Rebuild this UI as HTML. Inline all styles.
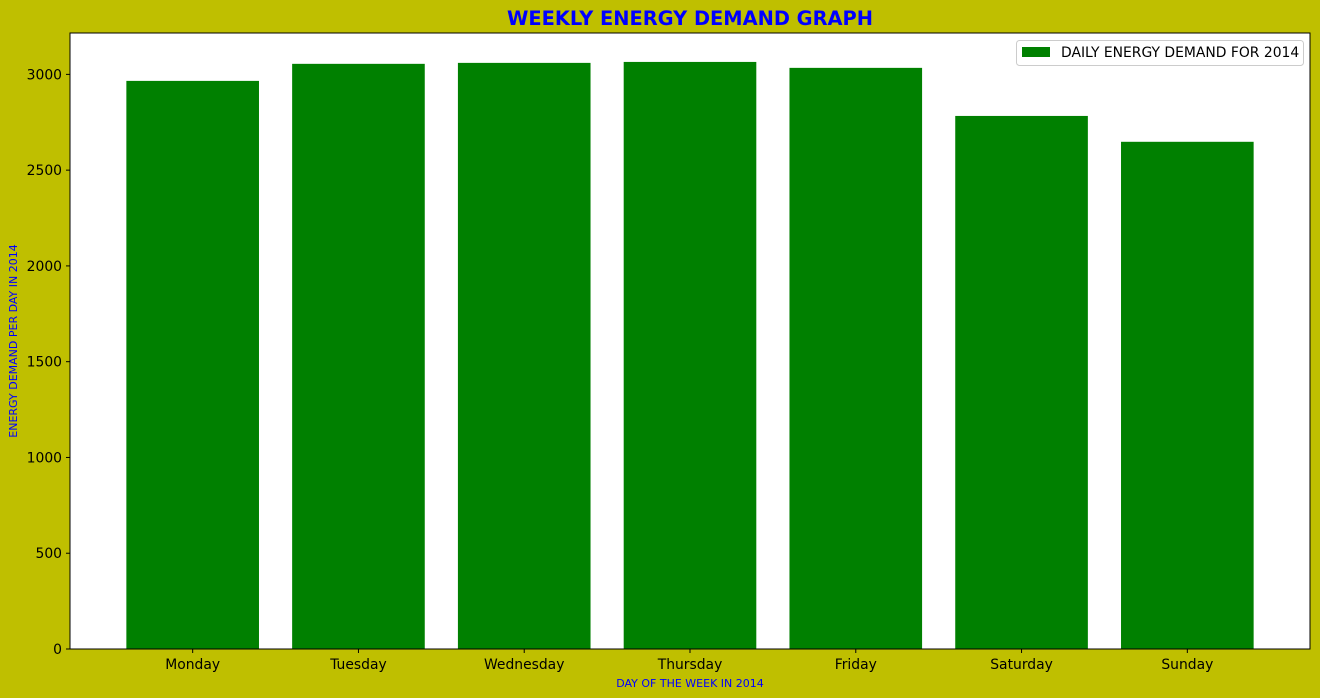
<!DOCTYPE html>
<html><head><meta charset="utf-8"><style>
body{margin:0;background:#bfbf00;}
svg{display:block;font-family:"DejaVu Sans","Liberation Sans",sans-serif;}
</style></head><body>
<svg id="chart" width="1320" height="698" xmlns="http://www.w3.org/2000/svg">
<rect x="0" y="0" width="1320" height="698" fill="#bfbf00"/>
<rect x="70" y="33" width="1240" height="616" fill="#ffffff"/>
<text x="690" y="25" text-anchor="middle" font-size="19.4" font-weight="bold" fill="#0000ff">WEEKLY ENERGY DEMAND GRAPH</text>
<text x="690" y="687" text-anchor="middle" font-size="11" fill="#0000ff">DAY OF THE WEEK IN 2014</text>
<text transform="translate(17,341) rotate(-90)" text-anchor="middle" font-size="11" fill="#0000ff">ENERGY DEMAND PER DAY IN 2014</text>
<g id="bars"></g><g id="xticks"></g><g id="yticks"></g>
<rect x="70" y="33" width="1240" height="616" fill="none" stroke="#000" stroke-width="1"/>
<g>
<rect x="1016.5" y="40.5" width="287" height="25" rx="3" fill="#fff" stroke="#ccc"/>
<rect x="1022" y="47" width="28" height="10" fill="#008000"/>
<text x="1061" y="57" font-size="13.9" fill="#000">DAILY ENERGY DEMAND FOR 2014</text>
</g>
</svg>
<script>
const categories=["Monday","Tuesday","Wednesday","Thursday","Friday","Saturday","Sunday"];
const demandValues=[2966,3055,3060,3065,3034,2783,2648];
const yTickValues=[0,500,1000,1500,2000,2500,3000];
const NS="http://www.w3.org/2000/svg";
const x0=70,x1=1310,y0=649,y1=33;
const xmin=-0.74,xmax=6.74,ymin=0,ymax=3216;
function xs(v){return x0+(v-xmin)/(xmax-xmin)*(x1-x0);}
function ys(v){return y0-(v-ymin)/(ymax-ymin)*(y0-y1);}
function mk(t,a,p){const e=document.createElementNS(NS,t);for(const k in a)e.setAttribute(k,a[k]);p.appendChild(e);return e;}
const bars=document.getElementById('bars'),xt=document.getElementById('xticks'),yt=document.getElementById('yticks');
categories.forEach((c,i)=>{
 const l=xs(i-0.4),r=xs(i+0.4),top=ys(demandValues[i]);
 const b=mk('rect',{x:l,y:top,width:r-l,height:ys(0)-top,fill:'#008000'},bars);
 
 
 const tk=mk('line',{x1:xs(i),x2:xs(i),y1:y0,y2:y0+4,stroke:'#000'},xt);
 
 
 const tl=mk('text',{x:xs(i),y:y0+20,'text-anchor':'middle','font-size':13.9,fill:'#000'},xt);
 tl.textContent=c;
 
 
});
yTickValues.forEach(v=>{
 const tk=mk('line',{x1:x0-4,x2:x0,y1:ys(v),y2:ys(v),stroke:'#000'},yt);
 
 
 const tl=mk('text',{x:x0-8,y:ys(v)+5,'text-anchor':'end','font-size':13.9,fill:'#000'},yt);
 tl.textContent=v;
 
 
});
</script>
</body></html>
